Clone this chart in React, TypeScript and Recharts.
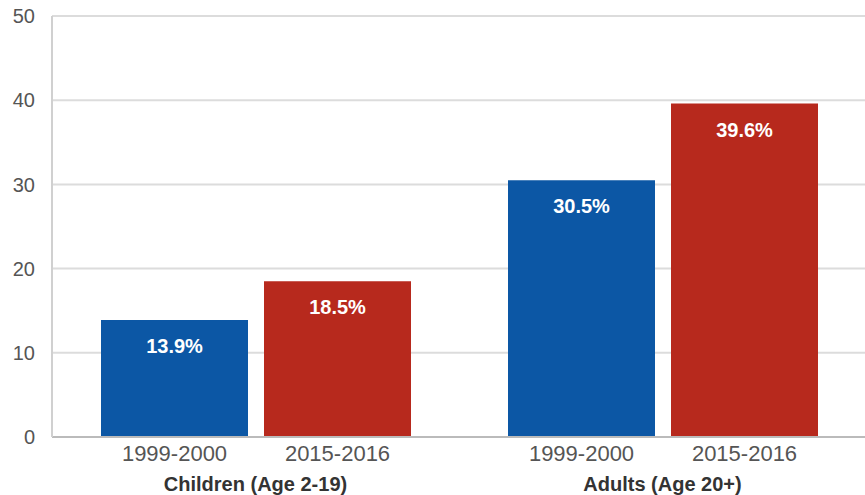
import { Bar, BarChart, CartesianGrid, LabelList, XAxis, YAxis } from "recharts"

const groups = ["Children (Age 2-19)", "Adults (Age 20+)"]
const periods = ["1999-2000", "2015-2016"]
const values1999 = [13.9, 30.5]
const values2015 = [18.5, 39.6]
const yTicks = [0, 10, 20, 30, 40, 50]

const BLUE = "#0c57a5"
const RED = "#b7291d"
const FONT = "'Liberation Sans', Arial, sans-serif"

const data = groups.map((g, i) => ({
  group: g,
  early: values1999[i],
  late: values2015[i]
}))

const GroupTick = (props: any) => {
  const { x, y, payload } = props
  return (
    <text
      x={x}
      y={y}
      dy={14}
      textAnchor="middle"
      fill="#333"
      fontSize={20}
      fontWeight="bold"
      fontFamily={FONT}
    >
      {payload.value}
    </text>
  )
}

const App = () => {
  return (
    <div
      style={{
        position: "absolute",
        left: 0,
        top: 0,
        width: 865,
        height: 495,
        overflow: "hidden",
        background: "#fff"
      }}
    >
      <BarChart
        width={866}
        height={495}
        data={data}
        margin={{ top: 16, right: 0, bottom: 0, left: 0 }}
        barSize={147}
        barGap={16}
      >
        <CartesianGrid vertical={false} stroke="#dcdcdc" strokeWidth={2} />
        <XAxis
          dataKey="group"
          height={58}
          tickLine={false}
          tickSize={0}
          tickMargin={40}
          axisLine={{ stroke: "#bbb", strokeWidth: 2 }}
          tick={<GroupTick />}
          interval={0}
        />
        <YAxis
          domain={[0, 50]}
          ticks={yTicks}
          width={52}
          tickLine={false}
          tickSize={0}
          tickMargin={17}
          axisLine={{ stroke: "#d0d0d0", strokeWidth: 2 }}
          tick={{ fill: "#555", fontSize: 20, fontFamily: FONT }}
        />
        <Bar dataKey="early" fill={BLUE} isAnimationActive={false}>
          <LabelList
            dataKey="early"
            position="insideTop"
            offset={19}
            fill="#fff"
            fontSize={20}
            fontWeight="bold"
            fontFamily={FONT}
            formatter={(v: any) => `${v}%`}
          />
          <LabelList
            dataKey="early"
            position="bottom"
            offset={8}
            fill="#555"
            fontSize={22}
            fontFamily={FONT}
            formatter={() => periods[0]}
          />
        </Bar>
        <Bar dataKey="late" fill={RED} isAnimationActive={false}>
          <LabelList
            dataKey="late"
            position="insideTop"
            offset={19}
            fill="#fff"
            fontSize={20}
            fontWeight="bold"
            fontFamily={FONT}
            formatter={(v: any) => `${v}%`}
          />
          <LabelList
            dataKey="late"
            position="bottom"
            offset={8}
            fill="#555"
            fontSize={22}
            fontFamily={FONT}
            formatter={() => periods[1]}
          />
        </Bar>
      </BarChart>
    </div>
  )
}

export default App
